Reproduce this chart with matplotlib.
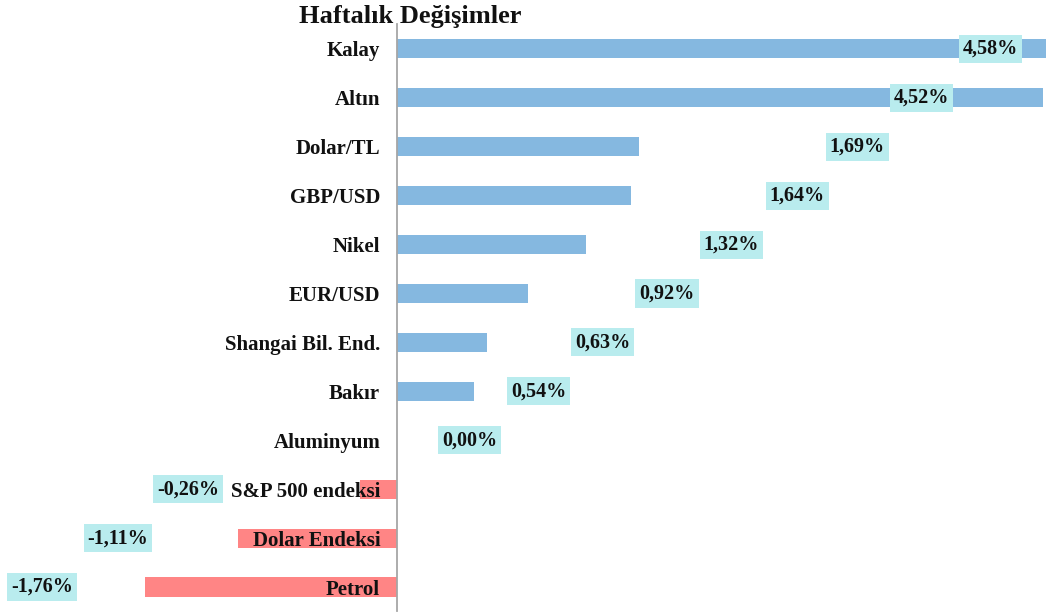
import matplotlib.pyplot as plt

# Data
categories = ['Kalay', 'Altın', 'Dolar/TL', 'GBP/USD', 'Nikel', 'EUR/USD',
              'Shangai Bil. End.', 'Bakır', 'Aluminyum', 'S&P 500 endeksi',
              'Dolar Endeksi', 'Petrol']
changes = [4.58, 4.52, 1.69, 1.64, 1.32, 0.92, 0.63, 0.54, 0.00, -0.26, -1.11, -1.76]
value_labels = ['4,58%', '4,52%', '1,69%', '1,64%', '1,32%', '0,92%', '0,63%',
                '0,54%', '0,00%', '-0,26%', '-1,11%', '-1,76%']
# where Excel placed the data labels (x in data units)
label_x = [4.15, 3.67, 3.22, 2.80, 2.34, 1.89, 1.44, 0.99, 0.51, -1.46, -1.95, -2.48]

plt.rcParams['font.family'] = ['Liberation Serif', 'DejaVu Serif']
plt.rcParams['font.weight'] = 'bold'

fig = plt.figure(figsize=(10.46, 6.15), dpi=100)
ax = fig.add_axes([0, 0.0057, 1, 0.9545])

colors = ['#85b8e0' if v >= 0 else '#ff8585' for v in changes]
y = range(len(categories))
ax.barh(y, changes, height=0.39, color=colors, zorder=1)

for yi, lx, txt in zip(y, label_x, value_labels):
    ax.text(lx, yi, txt, ha='center', va='center', fontsize=14.5, fontweight='bold',
            color='#111111', zorder=3,
            bbox=dict(boxstyle='square,pad=0.2', facecolor='#b9ecee', edgecolor='none'))

ax.set_xlim(-2.776, 4.54)
ax.set_ylim(len(categories) - 0.5, -0.5)

# tick_params first, it resets label properties otherwise
ax.tick_params(axis='y', length=0, pad=12, labelsize=15, labelcolor='#111111')
ax.set_yticks(list(y))
ax.set_yticklabels(categories, fontsize=15, fontweight='bold')
ax.set_xticks([])

ax.spines['left'].set_position(('data', 0))
ax.spines['left'].set_color('#a6a6a6')
ax.spines['left'].set_linewidth(1.3)
for s in ['top', 'right', 'bottom']:
    ax.spines[s].set_visible(False)

fig.text(410 / 1046, 1 - 17 / 615, 'Haftalık Değişimler', ha='center', va='center',
         fontsize=19, fontweight='bold', color='#111111')

fig.savefig('out.png', dpi=100)
